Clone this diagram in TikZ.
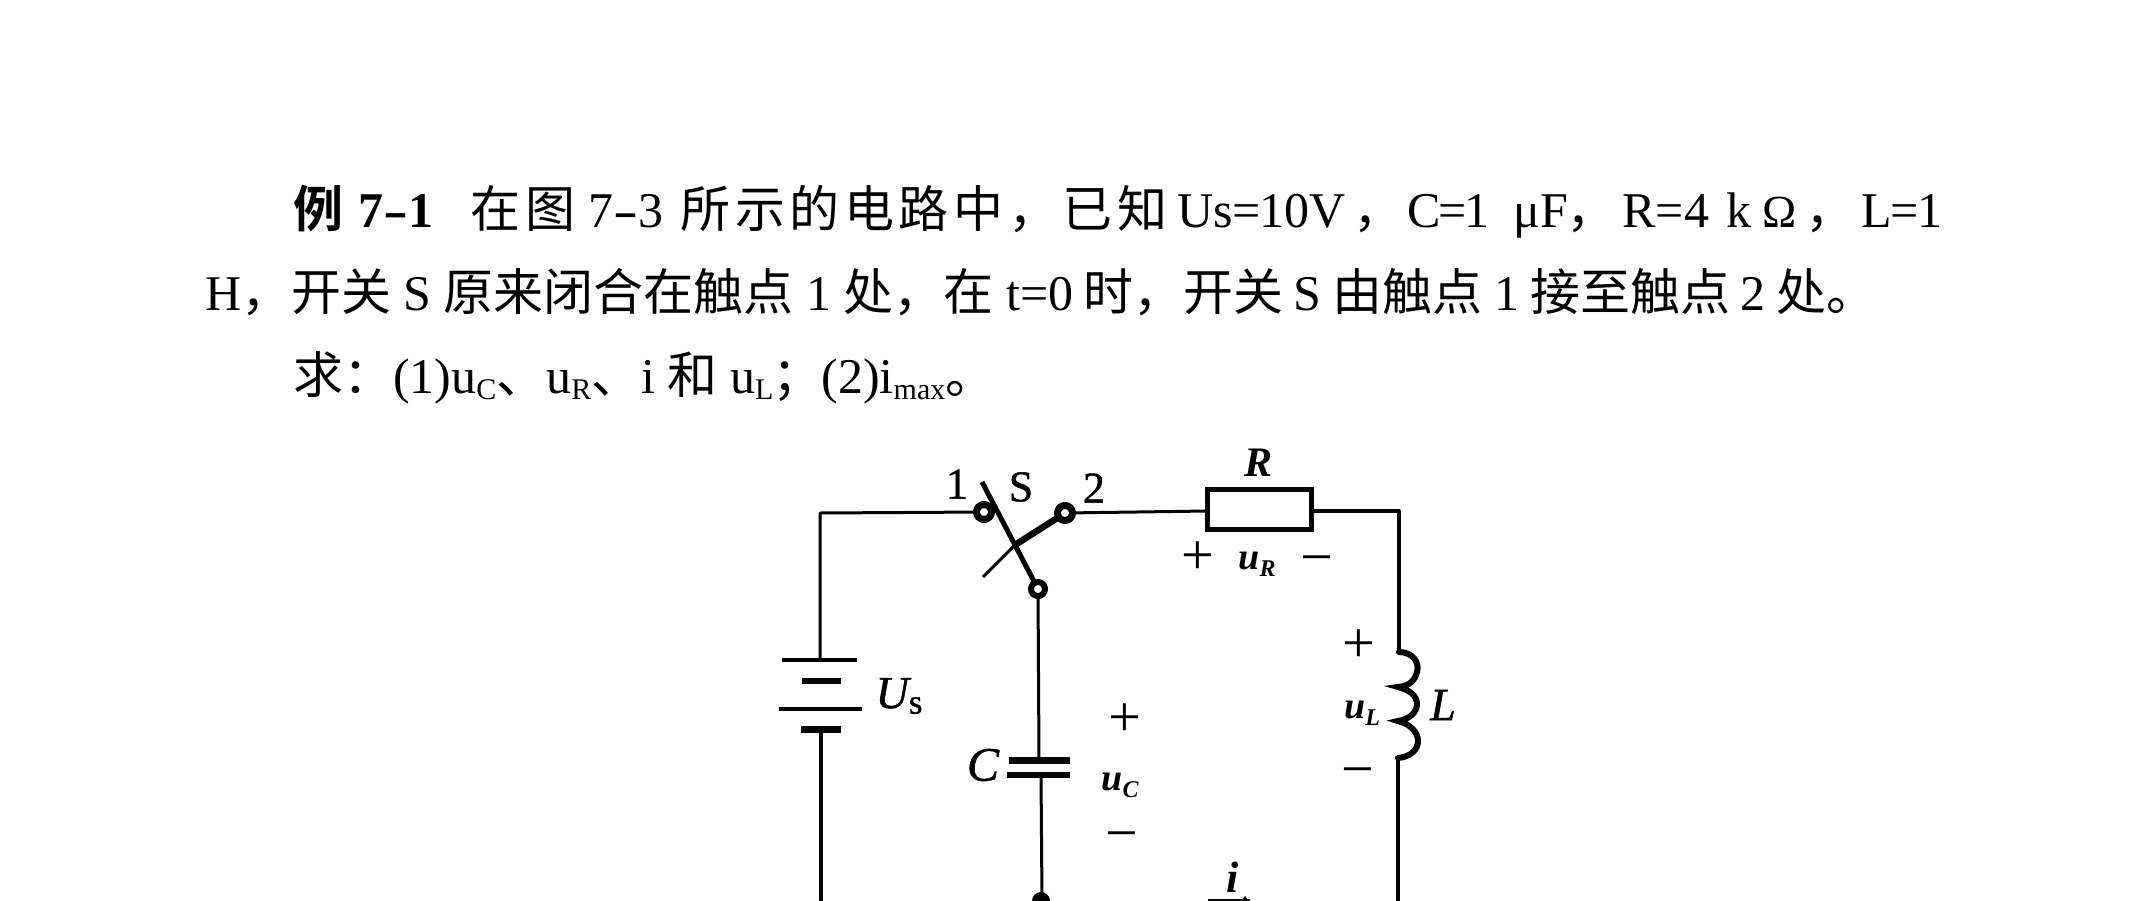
\documentclass[tikz,border=0pt]{standalone}
\usepackage{fontspec}
\setmainfont{Liberation Serif}
\newfontfamily\cjk{Noto Sans CJK SC}
\newfontfamily\cjkw[LetterSpace=9.2]{Noto Sans CJK SC}
\newfontfamily\cjkb{Noto Sans CJK SC Bold}
\newfontfamily\dlab[FakeBold=1]{Liberation Serif}
\newfontfamily\dlabi[FakeBold=1]{Liberation Serif Italic}
\newcommand\zh[1]{{\cjk #1}}
\newcommand\zw[1]{{\cjkw #1}}
\newcommand\sbs[1]{\raisebox{-0.12em}{\fontsize{30}{30}\selectfont #1}}
\newcommand\seg[2]{\rlap{\hspace{#1pt}#2}}
\newcommand\wdash{\scalebox{1.5}[1]{-}}
\tikzset{
  x=1pt,y=-1pt,
  para/.style={anchor=base west,inner sep=0pt,outer sep=0pt,font=\fontsize{50}{50}\selectfont},
  wire/.style={line width=3pt,black,line cap=round,line join=round},
  heavy/.style={line width=4pt,black,line cap=round,line join=round},
  contact/.style={circle,draw=black,line width=7pt,fill=white,minimum size=15pt,inner sep=0pt,outer sep=0pt},
  lab/.style={inner sep=0pt,outer sep=0pt,font=\fontsize{44}{44}\selectfont\dlab},
  ilab/.style={inner sep=0pt,outer sep=0pt,font=\fontsize{46}{46}\selectfont\dlabi},
  smalllab/.style={inner sep=0pt,outer sep=0pt,font=\fontsize{38}{38}\selectfont\bfseries\itshape},
  sign/.style={inner sep=0pt,outer sep=0pt,font=\fontsize{58}{58}\selectfont},
}
\newcommand\subu[1]{\raisebox{-0.18em}{\fontsize{24}{24}\selectfont #1}}
\begin{document}
\begin{tikzpicture}
\useasboundingbox (0,0) rectangle (2149,900);
\fill[white] (0,0) rectangle (2149,900);
% text
\node[para] (t1) at (293,227) {\seg{0}{{\cjkb 例}}\seg{65}{\textbf{7\wdash1}}\seg{177}{\zw{在图}}\seg{295}{7\wdash3}\seg{387}{\zw{所示的电路中，已知}}\seg{884}{Us\kern-1pt=\kern-1pt10V}\seg{1060}{\zh{，}}\seg{1114}{C\kern-2.5pt=\kern-2.5pt1}\seg{1220}{μF}\seg{1273}{\zh{，}}\seg{1329}{R=4}\seg{1433}{k}\seg{1469}{{\fontsize{46}{46}\selectfont Ω}}\seg{1512}{\zh{，}}\seg{1568}{L\kern-1.5pt=\kern-1.5pt1}};
\node[para] (t2) at (205,310) {H\zh{，开关} S \zh{原来闭合在触点} 1 \zh{处，在} t=0\kern-3pt\ \zh{时，开关}\kern-2pt\ S\kern-1pt\ \zh{由触点}\kern-1pt\ 1\kern-1pt\ \zh{接至触点}\kern-3pt\ 2\kern-1pt\ \zh{处。}};
\node[para] (t3) at (293,393) {\zh{求：}(1)u\sbs{C}\zh{、}u\sbs{R}\zh{、}i \zh{和} u\sbs{L}\kern-1pt\zh{；}\kern-1pt(2)i\sbs{max}\zh{。}};
% circuit points
\node[contact] (c1) at (984,512) {};
\node[contact] (c2) at (1065,513) {};
\node[contact,minimum size=14pt,line width=6pt] (p) at (1038,589) {};
\coordinate (tl) at (820,513);
\coordinate (tr) at (1399,511);
\coordinate (blade) at (982,482);
\coordinate (cross) at (1015,545);
\coordinate (tick) at (983,577);
\coordinate (bl) at (821,900);
\coordinate (bm) at (1042,900);
\coordinate (br) at (1398,900);
% battery
\coordinate (b1) at (820,660);
\coordinate (b4) at (821,729);
\draw[line width=4pt] (782,660) -- (857,660);
\draw[line width=6.5pt] (802,681) -- (841,681);
\draw[line width=4pt] (779,709) -- (862,709);
\draw[line width=7pt] (801,729) -- (841,729);
% capacitor
\coordinate (ct) at (1039,760);
\coordinate (cb) at (1041,775);
\draw[line width=7pt] (1009,760) -- (1070,760);
\draw[line width=6pt] (1007,775) -- (1070,775);
% resistor
\node[draw=black,line width=5pt,minimum width=104pt,minimum height=40pt,inner sep=0pt,outer sep=0pt] (R) at (1259.5,509.5) {};
\coordinate (lt) at (1399,652);
\coordinate (lb) at (1398,758);
% wires
\draw[wire] (c1) -- (tl) -- (b1);
\draw[heavy] (b4) -- (bl);
\draw[wire] (p) -- (ct);
\draw[wire] (cb) -- (bm);
\draw[wire] (c2) -- (R.west |- 0,511);
\draw[heavy] (R.east |- 0,511) -- (tr) -- (lt);
\draw[heavy] (lb) -- (br);
% switch
\draw[line width=5pt,black] (blade) -- (cross) -- (p);
\draw[line width=3pt,black] (cross) -- (tick);
\draw[line width=6.5pt,black] (cross) -- (c2);
% inductor
\draw[line width=6pt,black,line cap=round,line join=miter]
  (lt) .. controls (1412,652) and (1420,662) .. (1417,672)
  .. controls (1415,680) and (1410,686) .. (1398,687)
  .. controls (1410,690) and (1417,696) .. (1417,704)
  .. controls (1417,712) and (1410,719) .. (1398,721)
  .. controls (1410,724) and (1418,732) .. (1418,741)
  .. controls (1418,750) and (1410,757) .. (lb);
% bottom junction and arrow
\fill[black] (bm) ++(-1,1) circle (9pt);
\coordinate (as) at (1208,899.5);
\coordinate (ae) at (1250,899.5);
\draw[line width=2pt] (as) -- (ae);
\fill[black] (1242,900) -- (1245,896) -- (1248,900) -- cycle;
% labels
\node[lab] (n1) at (957,484) {1};
\node[lab] (nS) at (1021,487) {S};
\node[lab] (n2) at (1094,488) {2};
\node[ilab] (lU) at (899,696) {U\raisebox{-0.12em}{\fontsize{35}{35}\selectfont\dlab s}};
\node[ilab,font=\fontsize{48}{48}\selectfont\dlabi] (lC) at (983,765) {C};
\node[smalllab,font=\fontsize{42}{42}\selectfont\bfseries\itshape] (lR) at (1258,463) {R};
\node[ilab] (lL) at (1443,705) {L};
\node[smalllab] (lur) at (1257,564) {u\subu{R}};
\node[smalllab] (lul) at (1362,713) {u\subu{L}};
\node[smalllab] (luc) at (1120,785) {u\subu{C}};
\node[smalllab,font=\fontsize{44}{44}\selectfont\bfseries\itshape] (li) at (1233,877) {i};
\node[sign] (pr) at (1198,558) {+};
\node[sign] (mr) at (1317,566) {−};
\node[sign] (pl) at (1359,646) {+};
\node[sign] (ml) at (1358,778) {−};
\node[sign] (pc) at (1125,720) {+};
\node[sign] (mc) at (1122,842) {−};
\end{tikzpicture}
\end{document}
